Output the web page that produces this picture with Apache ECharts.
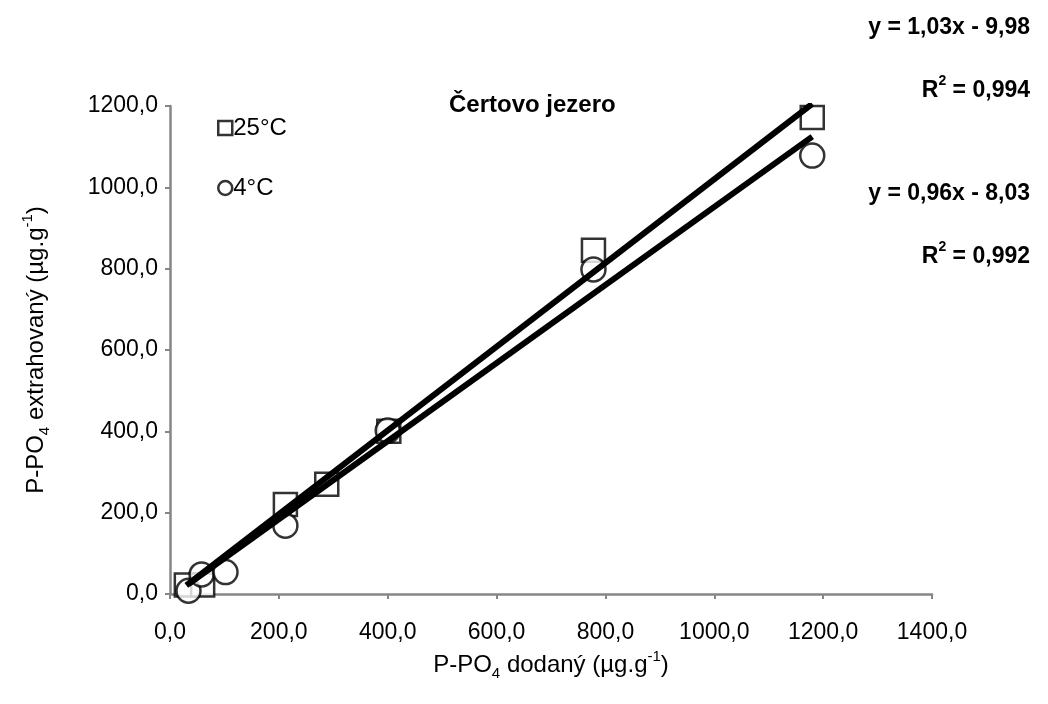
<!DOCTYPE html>
<html>
<head>
<meta charset="utf-8">
<script src="https://cdn.jsdelivr.net/npm/echarts@6/dist/echarts.min.js"></script>
<style>
  html, body { margin: 0; padding: 0; background: #fff; }
  #chart { width: 1048px; height: 704px; }
</style>
</head>
<body>
<div id="chart"></div>
<script>
// P-PO4 dodaný (x) vs. extrahovaný (y)
const warmPoints = [[30, 22], [60, 22], [212, 220], [288, 270], [402, 400], [778, 845], [1180, 1172]];
const coldPoints = [[34, 8], [58, 48], [102, 54], [212, 168], [400, 402], [778, 798], [1180, 1078]];

// regression lines as printed on the chart
const warmFit = [1.03, -9.98];
const coldFit = [0.96, -8.03];
const warmLabels = ['y = 1,03x - 9,98', '0,994'];
const coldLabels = ['y = 0,96x - 8,03', '0,992'];

const FONT = 'Liberation Sans';

const fitLine = (pts, fit) => {
  const xs = pts.map((p) => p[0]);
  const x0 = Math.min(...xs), x1 = Math.max(...xs);
  return [[x0, fit[0] * x0 + fit[1]], [x1, fit[0] * x1 + fit[1]]];
};
const fmt = (v) => v.toFixed(1).replace('.', ',');

const chart = echarts.init(document.getElementById('chart'));

const eqText = (text, top) => ({
  type: 'text',
  right: 18,
  top: top,
  style: {
    text: text,
    fill: '#000',
    font: 'bold 23px "' + FONT + '"',
    rich: {
      b: { fontFamily: FONT, fontWeight: 'bold', fontSize: 23, lineHeight: 28, verticalAlign: 'bottom' },
      s: { fontFamily: FONT, fontWeight: 'bold', fontSize: 14, lineHeight: 28, verticalAlign: 'top' }
    }
  }
});

const axisName = {
  rich: {
    a: { fontFamily: FONT, fontSize: 24, color: '#000', lineHeight: 32, verticalAlign: 'middle' },
    sub: { fontFamily: FONT, fontSize: 15, color: '#000', lineHeight: 32, verticalAlign: 'bottom' },
    sup: { fontFamily: FONT, fontSize: 15, color: '#000', lineHeight: 32, verticalAlign: 'top' }
  }
};

const option = {
  animation: false,
  backgroundColor: '#fff',
  textStyle: { fontFamily: FONT },
  title: {
    text: 'Čertovo jezero',
    left: 444,
    top: 88,
    textStyle: { fontFamily: FONT, fontSize: 24, fontWeight: 'bold', color: '#000' }
  },
  legend: {
    data: ['25°C', '4°C'],
    orient: 'vertical',
    left: 212,
    top: 111,
    itemWidth: 14,
    itemHeight: 14,
    itemGap: 36,
    itemStyle: { borderWidth: 2.5 },
    textStyle: { fontFamily: FONT, fontSize: 24, color: '#000', padding: [0, 0, 0, -4] }
  },
  grid: { left: 170, right: 116, top: 106, bottom: 110, containLabel: false },
  xAxis: {
    type: 'value',
    min: 0,
    max: 1400,
    interval: 200,
    name: '{a|P-PO}{sub|4}{a| dodaný (µg.g}{sup|-1}{a|)}',
    nameLocation: 'middle',
    nameGap: 55,
    nameTextStyle: axisName,
    axisLine: { lineStyle: { color: '#868686', width: 2.5 } },
    axisTick: { show: true, inside: false, length: 5, lineStyle: { color: '#868686', width: 2 } },
    axisLabel: { fontSize: 23, color: '#000', margin: 27, formatter: fmt },
    splitLine: { show: false }
  },
  yAxis: {
    type: 'value',
    min: 0,
    max: 1200,
    interval: 200,
    name: '{a|P-PO}{sub|4}{a| extrahovaný (µg.g}{sup|-1}{a|)}',
    nameLocation: 'middle',
    nameGap: 118,
    nameRotate: 90,
    nameTextStyle: axisName,
    axisLine: { show: true, lineStyle: { color: '#868686', width: 2.5 } },
    axisTick: { show: true, inside: false, length: 5, lineStyle: { color: '#868686', width: 2 } },
    axisLabel: { fontSize: 23, color: '#000', margin: 12, formatter: fmt },
    splitLine: { show: false }
  },
  graphic: [
    eqText('{b|' + warmLabels[0] + '}', 16),
    eqText('{b|R}{s|2}{b| = ' + warmLabels[1] + '}', 74),
    eqText('{b|' + coldLabels[0] + '}', 182),
    eqText('{b|R}{s|2}{b| = ' + coldLabels[1] + '}', 240)
  ],
  series: [
    {
      name: '25°C',
      type: 'scatter',
      symbol: 'rect',
      symbolSize: 23,
      data: warmPoints,
      itemStyle: { color: '#fff', borderColor: '#000', borderWidth: 2.5 },
      z: 2
    },
    {
      name: '4°C',
      type: 'scatter',
      symbol: 'circle',
      symbolSize: 24,
      data: coldPoints,
      itemStyle: { color: '#fff', borderColor: '#000', borderWidth: 2.5 },
      z: 2
    },
    {
      name: 'fit25',
      type: 'line',
      data: fitLine(warmPoints, warmFit),
      symbol: 'none',
      lineStyle: { color: '#000', width: 6 },
      z: 3
    },
    {
      name: 'fit4',
      type: 'line',
      data: fitLine(coldPoints, coldFit),
      symbol: 'none',
      lineStyle: { color: '#000', width: 6 },
      z: 3
    }
  ]
};

chart.setOption(option);
</script>
</body>
</html>
